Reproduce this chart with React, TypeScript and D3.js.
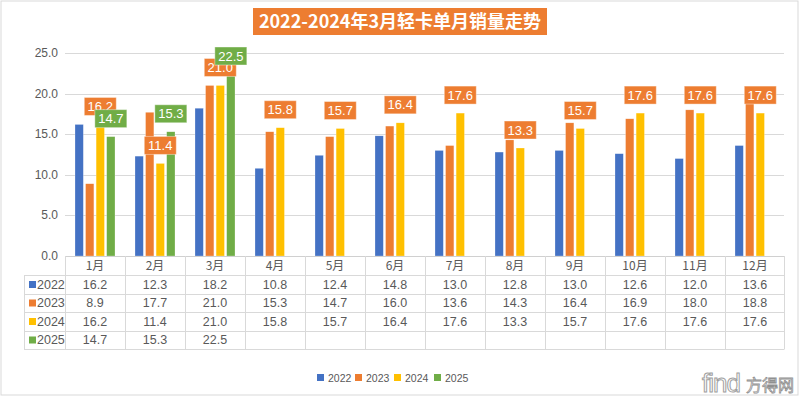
import React from "react";
import * as d3 from "d3";

const months = ["1月", "2月", "3月", "4月", "5月", "6月", "7月", "8月", "9月", "10月", "11月", "12月"];
const seriesNames = ["2022", "2023", "2024", "2025"];
const s2022 = [16.2, 12.3, 18.2, 10.8, 12.4, 14.8, 13.0, 12.8, 13.0, 12.6, 12.0, 13.6];
const s2023 = [8.9, 17.7, 21.0, 15.3, 14.7, 16.0, 13.6, 14.3, 16.4, 16.9, 18.0, 18.8];
const s2024 = [16.2, 11.4, 21.0, 15.8, 15.7, 16.4, 17.6, 13.3, 15.7, 17.6, 17.6, 17.6];
const s2025: (number | null)[] = [14.7, 15.3, 22.5, null, null, null, null, null, null, null, null, null];
const yTicks = [0, 5, 10, 15, 20, 25];
const colors = ["#4472C4", "#ED7D31", "#FFC000", "#70AD47"];
const labelColors: Record<string, string> = { "2024": "#ED7D31", "2025": "#70AD47" };
const title = "2022-2024年3月轻卡单月销量走势";

const W = 800;
const H = 398;
const plotL = 65;
const plotR = 785;
const font = '"Liberation Sans", "Noto Sans CJK SC", sans-serif';
const cjk = '"Noto Sans CJK SC", "Liberation Sans", sans-serif';
const textColor = "#595959";
const gridColor = "#d9d9d9";

export default function App() {
  const allSeries = [s2022, s2023, s2024, s2025];
  const x = d3.scaleBand<string>().domain(months).range([plotL, plotR]).padding(0);
  const inner = d3.scaleBand<string>().domain(seriesNames).range([10, 50]).paddingInner(0.21).paddingOuter(0);
  const y = d3.scaleLinear().domain([0, 25]).range([256, 53]);
  const bw = inner.bandwidth();

  const tableTop = 256;
  const headerH = 19;
  const rowH = 18.5;
  const rowsTop = tableTop + headerH;
  const tableBottom = rowsTop + rowH * 4;

  const labels: { key: string; cx: number; v: number; color: string }[] = [];
  ["2024", "2025"].forEach((name) => {
    const idx = seriesNames.indexOf(name);
    allSeries[idx].forEach((v, i) => {
      if (v == null) return;
      labels.push({ key: name + i, cx: (x(months[i]) as number) + (inner(name) as number) + bw / 2, v: v as number, color: labelColors[name] });
    });
  });

  const legendX = [317, 355, 394, 434];

  return (
    <svg width={W} height={H} style={{ position: "absolute", left: 0, top: 0, background: "#fff" }}>
      <rect x={1} y={1} width={797} height={394} fill="#fff" stroke={gridColor} strokeWidth={1} />

      {/* title */}
      <rect x={253} y={8} width={294} height={27} fill="#ED7D31" />
      <text x={400} y={28} textAnchor="middle" fill="#fff" fontFamily={cjk} fontWeight="bold" fontSize={18}>
        {title}
      </text>

      {/* gridlines & y axis labels */}
      {yTicks.map((t) => (
        <g key={t}>
          {t > 0 && <line x1={plotL} x2={plotR - 1} y1={Math.round(y(t)) + 0.5} y2={Math.round(y(t)) + 0.5} stroke={gridColor} />}
          <text x={58} y={y(t) + 4} textAnchor="end" fill={textColor} fontFamily={font} fontSize={12}>
            {t.toFixed(1)}
          </text>
        </g>
      ))}

      {/* bars */}
      {allSeries.map((arr, si) =>
        arr.map((v, i) =>
          v == null ? null : (
            <rect
              key={si + "-" + i}
              x={(x(months[i]) as number) + (inner(seriesNames[si]) as number)}
              y={y(v as number)}
              width={bw}
              height={y(0) - y(v as number)}
              fill={colors[si]}
              stroke="#ffffff"
              strokeOpacity={0.5}
              strokeWidth={0.5}
            />
          )
        )
      )}

      {/* data label boxes */}
      {labels.map((l) => {
        const bh = 18;
        const bwid = 32;
        const bottom = y(l.v) - 9;
        let top = bottom - bh;
        if (top < 47) {
          top = 47;
        }
        return (
          <g key={l.key}>
            <rect x={l.cx - bwid / 2} y={top} width={bwid} height={bh} fill={l.color} stroke="#ffffff" strokeOpacity={0.4} strokeWidth={1} />
            <text x={l.cx} y={top + 13.5} textAnchor="middle" fill="#fff" fontFamily={font} fontSize={13}>
              {(l.v as number).toFixed(1)}
            </text>
          </g>
        );
      })}

      {/* table */}
      <g stroke={gridColor} strokeWidth={1}>
        <line x1={plotL} x2={plotR - 1} y1={tableTop + 0.5} y2={tableTop + 0.5} stroke="#d0d0d0" />
        {[0, 1, 2, 3, 4].map((r) => (
          <line key={"h" + r} x1={24} x2={plotR - 1} y1={Math.round(rowsTop + r * rowH) + 0.5} y2={Math.round(rowsTop + r * rowH) + 0.5} />
        ))}
        <line x1={24.5} x2={24.5} y1={rowsTop} y2={Math.round(tableBottom) + 0.5} />
        {d3.range(13).map((k) => {
          const xx = k < 12 ? (x(months[k]) as number) : plotR - 1;
          return <line key={"v" + k} x1={xx + 0.5} x2={xx + 0.5} y1={tableTop} y2={Math.round(tableBottom) + 0.5} />;
        })}
      </g>
      {months.map((m) => (
        <text key={m} x={(x(m) as number) + 30} y={tableTop + 14} textAnchor="middle" fill={textColor} fontFamily={cjk} fontSize={12}>
          {m}
        </text>
      ))}
      {seriesNames.map((name, si) => (
        <g key={name}>
          <rect x={29} y={rowsTop + si * rowH + 6} width={7} height={7} fill={colors[si]} />
          <text x={37} y={rowsTop + si * rowH + 13.5} fill={textColor} fontFamily={font} fontSize={12.5}>
            {name}
          </text>
          {allSeries[si].map((v, i) =>
            v == null ? null : (
              <text key={i} x={(x(months[i]) as number) + 30} y={rowsTop + si * rowH + 13.5} textAnchor="middle" fill={textColor} fontFamily={font} fontSize={12.5}>
                {(v as number).toFixed(1)}
              </text>
            )
          )}
        </g>
      ))}

      {/* legend */}
      {seriesNames.map((name, si) => (
        <g key={"lg" + name}>
          <rect x={legendX[si]} y={374} width={7} height={7} fill={colors[si]} />
          <text x={legendX[si] + 11} y={381.5} fill={textColor} fontFamily={font} fontSize={10.5}>
            {name}
          </text>
        </g>
      ))}

      {/* watermark */}
      <text x={702} y={392} fill="#fff" stroke="#a0a0a0" strokeWidth={1} fontFamily={font} fontSize={26} letterSpacing={-1}>
        find
      </text>
      <text x={746} y={391} fill="#fff" stroke="#909090" strokeWidth={0.8} fontFamily={cjk} fontSize={16}>
        方得网
      </text>
    </svg>
  );
}
